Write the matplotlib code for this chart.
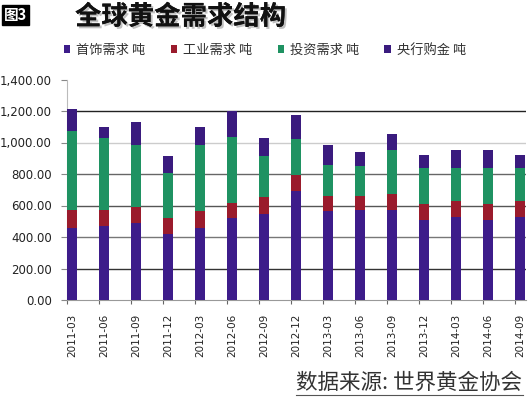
import matplotlib
matplotlib.use("Agg")
import matplotlib.pyplot as plt
import matplotlib.patheffects as pe
from matplotlib.lines import Line2D
from matplotlib.ticker import FuncFormatter, MultipleLocator
import numpy as np

CJK = ["Noto Sans CJK SC", "DejaVu Sans"]

quarters = ["2011-03", "2011-06", "2011-09", "2011-12", "2012-03", "2012-06", "2012-09",
            "2012-12", "2013-03", "2013-06", "2013-09", "2013-12", "2014-03", "2014-06", "2014-09"]
jewelry = [457, 470, 487, 421, 457, 523, 548, 694, 563, 571, 571, 506, 527, 506, 527]
industrial = [114, 101, 103, 102, 106, 91, 104, 99, 99, 91, 100, 101, 101, 101, 101]
investment = [502, 457, 394, 283, 421, 421, 262, 229, 195, 189, 279, 229, 208, 229, 208]
central_bank = [137, 70, 146, 108, 114, 165, 114, 152, 125, 91, 102, 84, 118, 114, 84]
series_names = ["首饰需求 吨", "工业需求 吨", "投资需求 吨", "央行购金 吨"]
colors = ["#3D1C8A", "#9A1B2C", "#1F9262", "#3A1B7E"]

W, H = 529, 399
fig = plt.figure(figsize=(W / 100, H / 100), dpi=100)
ax = fig.add_axes([67.3 / W, (H - 300) / H, (526 - 67.3) / W, (300 - 79.5) / H])

x = np.arange(len(quarters))
bw = 0.31
bottom = np.zeros(len(quarters))
handles = []
for vals, name, c in zip([jewelry, industrial, investment, central_bank], series_names, colors):
    b = ax.bar(x, vals, bw, bottom=bottom, align="edge", color=c, label=name, zorder=3)
    handles.append(b)
    bottom += np.array(vals)

ax.set_xlim(0, 14.33)
ax.set_ylim(0, 1400)
ax.yaxis.set_major_locator(MultipleLocator(200))
ax.yaxis.set_major_formatter(FuncFormatter(lambda v, p: f"{v:,.2f}"))

# gridlines (the scan shows them in uneven greys)
grid_cols = {200: "#333333", 400: "#777777", 600: "#555555", 800: "#666666", 1000: "#cccccc", 1200: "#222222"}
for yv, gc in grid_cols.items():
    ax.axhline(yv, color=gc, lw=1.0, zorder=1)

ax.set_xticks(x)
ax.set_xticklabels([])
ax.set_xticks(x + bw / 2, minor=True)
ax.set_xticklabels(quarters, minor=True, rotation=90, fontsize=7.5, color="#222222")
ax.tick_params(axis="x", which="major", length=3, color="#666666", direction="out")
ax.tick_params(axis="x", which="minor", length=0, pad=10)
ax.tick_params(axis="y", length=4, color="#888888", labelsize=8.5, labelcolor="#222222", pad=7)

for s in ["top", "right"]:
    ax.spines[s].set_visible(False)
ax.spines["left"].set_color("#bbbbbb")
ax.spines["bottom"].set_color("#999999")

# title
fig.text(4 / W, 1 - 15 / H, "图3", fontsize=10.5, color="white", fontweight="bold",
         family=CJK, va="center", ha="left",
         bbox=dict(boxstyle="square,pad=0.15", fc="black", ec="black"))
fig.text(75 / W, 1 - 17 / H, "全球黄金需求结构", fontsize=19, fontweight="bold",
         family=CJK, va="center", ha="left", color="#111111",
         path_effects=[pe.withSimplePatchShadow(offset=(1.5, -1.5), shadow_rgbFace="#999999", alpha=0.6),
                       pe.Normal()])

# legend
leg = fig.legend(handles=handles, labels=series_names, ncol=4, frameon=False,
                 loc="center", bbox_to_anchor=(265 / W, 1 - 50 / H),
                 prop={"family": CJK, "size": 9.5}, handlelength=0.5, handleheight=0.5,
                 handletextpad=0.45, columnspacing=1.9)
for t in leg.get_texts():
    t.set_color("#333333")

# source note
fig.text(522 / W, 1 - 383 / H, "数据来源: 世界黄金协会", fontsize=15.5, family=CJK,
         ha="right", va="center", color="#333333")
fig.add_artist(Line2D([296 / W, 523 / W], [1 - 395 / H, 1 - 395 / H], color="#555555", lw=0.8))

fig.savefig("out.png", dpi=100)
